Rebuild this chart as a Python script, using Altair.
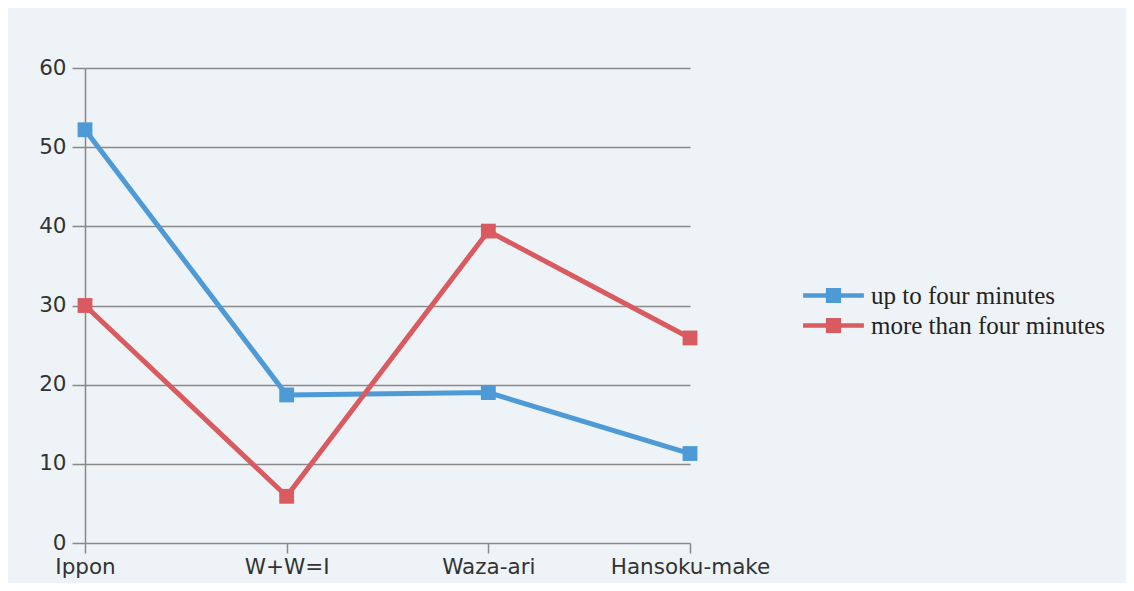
import altair as alt
import pandas as pd

categories = ["Ippon", "W+W=I", "Waza-ari", "Hansoku-make"]
up_to_four = [52.2, 18.7, 19.0, 11.3]
more_than_four = [30.0, 5.9, 39.4, 25.9]
series_names = ["up to four minutes", "more than four minutes"]
series_colors = ["#4e9ad6", "#d95b60"]

rows = []
for name, vals in zip(series_names, [up_to_four, more_than_four]):
    for c, v in zip(categories, vals):
        rows.append({"category": c, "value": v, "series": name})
df = pd.DataFrame(rows)

sym_path = "M-4,-0.3H-1V-1H1V-0.3H4V0.3H1V1H-1V0.3H-4Z"

x_enc = alt.X("category:N", sort=categories, title=None,
              scale=alt.Scale(type="point", padding=0),
              axis=alt.Axis(labelAngle=0, labelFont="DejaVu Sans", labelFontSize=21.5,
                            labelColor="#333333", domain=False, grid=False,
                            ticks=True, tickSize=10, tickColor="#888888", tickWidth=1.5,
                            labelPadding=3))
y_enc = alt.Y("value:Q", title=None,
              scale=alt.Scale(domain=[0, 60], nice=False),
              axis=alt.Axis(values=[0, 10, 20, 30, 40, 50, 60], labelFont="DejaVu Sans",
                            labelFontSize=21.5, labelColor="#333333",
                            domain=True, domainColor="#888888", domainWidth=1.5,
                            grid=True, gridColor="#8a8a8a", gridWidth=1.5,
                            ticks=True, tickSize=13, tickColor="#888888", tickWidth=1.5,
                            labelPadding=6))
color_enc = alt.Color("series:N", sort=series_names,
                      scale=alt.Scale(domain=series_names, range=series_colors),
                      legend=alt.Legend(title=None, orient="none", legendX=736, legendY=215,
                                        symbolType=sym_path, symbolSize=231,
                                        symbolStrokeWidth=0, symbolOpacity=1,
                                        labelFont="Liberation Serif", labelFontSize=25,
                                        labelColor="#222222", labelOffset=25,
                                        labelLimit=500, rowPadding=4, padding=0))

base = alt.Chart(df)
lines = base.mark_line(strokeWidth=5).encode(x=x_enc, y=y_enc, color=color_enc)
points = base.mark_point(shape="square", filled=True, size=220, opacity=1).encode(
    x=x_enc, y=y_enc, color=color_enc)

chart = alt.layer(lines, points).properties(
    width=605, height=475,
    autosize=alt.AutoSizeParams(type="none"),
    padding={"left": 77, "top": 60, "right": 436, "bottom": 40},
    background="#eef3f8",
).configure_view(stroke=None)

chart.save("out.html", embed_options={"renderer": "svg", "actions": False})
